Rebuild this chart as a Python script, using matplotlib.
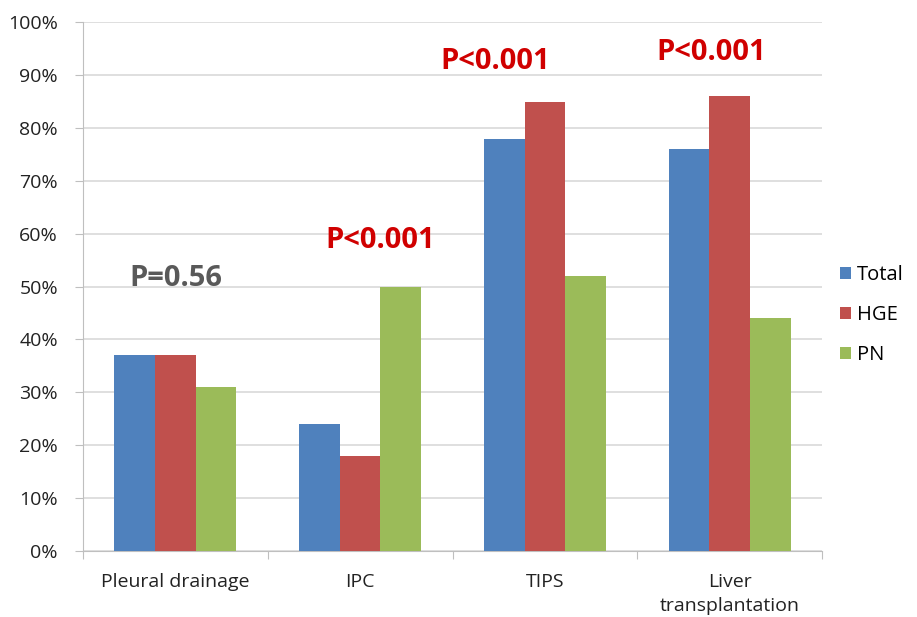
import matplotlib
matplotlib.use("Agg")
import matplotlib.pyplot as plt
import numpy as np

categories = ["Pleural drainage", "IPC", "TIPS", "Liver\ntransplantation"]
series_names = ["Total", "HGE", "PN"]
total = [37, 24, 78, 76]
hge = [37, 18, 85, 86]
pn = [31, 50, 52, 44]
p_labels = ["P=0.56", "P<0.001", "P<0.001", "P<0.001"]
p_y = [51.6, 58.8, 92.5, 94.3]
p_dx = [0.0, 0.11, -0.27, -0.10]
p_colors = ["#595959", "#D00000", "#D00000", "#D00000"]
yticks = [0, 10, 20, 30, 40, 50, 60, 70, 80, 90, 100]

colors = ["#4F81BD", "#C0504D", "#9BBB59"]
plt.rcParams['font.family'] = ['Open Sans', 'DejaVu Sans']

fig = plt.figure(figsize=(9.17, 6.17), dpi=100)
ax = fig.add_axes([0.0905, 0.107, 0.806, 0.857])

x = np.arange(len(categories))
w = 0.22
for i, (vals, name) in enumerate(zip([total, hge, pn], series_names)):
    ax.bar(x + (i - 1) * w, vals, width=w, color=colors[i], label=name, zorder=3)

ax.set_xlim(-0.5, len(categories) - 0.5)
ax.set_ylim(0, 100)
ax.set_yticks(yticks)
ax.set_yticklabels([f"{v}%" for v in yticks], fontsize=14, color="#222222")
ax.set_xticks(np.arange(len(categories) + 1) - 0.5)
ax.set_xticklabels([])
ax.set_xticks(x, minor=True)
ax.set_xticklabels(categories, minor=True, fontsize=14, color="#222222",
                   linespacing=1.4)
ax.tick_params(axis='x', which='minor', length=0, pad=16)
ax.tick_params(axis='x', which='major', length=6, color="#BFBFBF")
ax.tick_params(axis='y', length=6, color="#BFBFBF", pad=12)
ax.grid(axis='y', color="#D9D9D9", linewidth=1.2, zorder=0)
for s in ["top", "right"]:
    ax.spines[s].set_visible(False)
ax.spines["left"].set_color("#BFBFBF")
ax.spines["bottom"].set_color("#BFBFBF")

for i in range(len(categories)):
    ax.text(x[i] + p_dx[i], p_y[i], p_labels[i], ha='center', va='center',
            fontsize=21, fontweight='bold', color=p_colors[i], zorder=4)

leg = ax.legend(loc='center left', bbox_to_anchor=(1.0, 0.446), frameon=False,
                fontsize=14.5, handlelength=0.55, handleheight=0.55, handletextpad=0.3,
                labelspacing=1.0, borderaxespad=0.6, borderpad=0.3)

fig.savefig("out.png", dpi=100, facecolor="white")
